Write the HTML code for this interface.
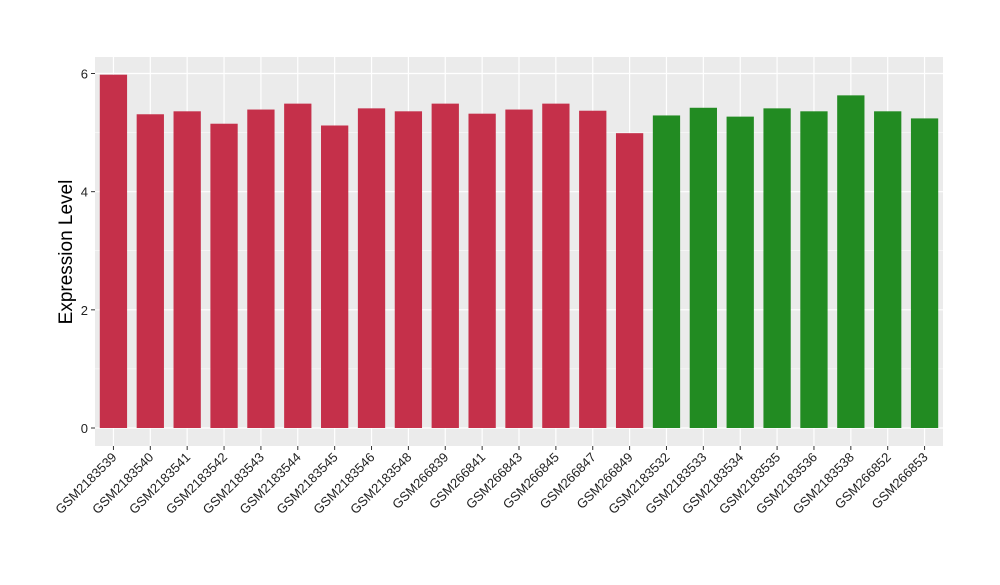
<!DOCTYPE html>
<html><head><meta charset="utf-8"><style>
body{margin:0;background:#fff}
svg{font-family:"Liberation Sans",Arial,sans-serif}
</style></head><body>
<svg id="chart" width="1000" height="580">
<rect x="95" y="57" width="848" height="389" fill="#ebebeb"/>
<g id="grid"></g><g id="bars"></g><g id="axes"></g>
<text x="72" y="252" font-size="19" text-anchor="middle" transform="rotate(-90 72 252)">Expression Level</text>
</svg>
<script>
const categories=["GSM2183539","GSM2183540","GSM2183541","GSM2183542","GSM2183543","GSM2183544","GSM2183545","GSM2183546","GSM2183548","GSM266839","GSM266841","GSM266843","GSM266845","GSM266847","GSM266849","GSM2183532","GSM2183533","GSM2183534","GSM2183535","GSM2183536","GSM2183538","GSM266852","GSM266853"];
const values=[5.98,5.31,5.36,5.15,5.39,5.49,5.12,5.41,5.36,5.49,5.32,5.39,5.49,5.37,4.99,5.29,5.42,5.27,5.41,5.36,5.63,5.36,5.24];
const groups=["a","a","a","a","a","a","a","a","a","a","a","a","a","a","a","b","b","b","b","b","b","b","b"];
const yTicks=[0,2,4,6];
const colors={a:"#c5304a",b:"#228b22"};
const NS="http://www.w3.org/2000/svg";
const L=95,R=943,T=57,B=446;
const y=v=>428-v*(428-73.5)/6;
const bw=(R-L)/categories.length;
const x=i=>L+bw*(i+0.5);
function mk(tag,attrs,parent){const e=document.createElementNS(NS,tag);for(const k in attrs)e.setAttribute(k,attrs[k]);parent.appendChild(e);return e;}
const grid=document.getElementById('grid'),bars=document.getElementById('bars'),axes=document.getElementById('axes');
for(let i=0;i<yTicks.length;i++){
 const t=yTicks[i];
 const g=mk('line',{x1:L,x2:R,y1:y(t),y2:y(t),stroke:'#fff','stroke-width':1.2},grid);
 
 
 if(i<yTicks.length-1){const m=mk('line',{x1:L,x2:R,y1:y(t+1),y2:y(t+1),stroke:'#fff','stroke-width':0.5},grid);
 
 }
 const tk=mk('line',{x1:L-4,x2:L,y1:y(t),y2:y(t),stroke:'#333'},axes);
 
 
 const lb=mk('text',{x:L-7,y:y(t)+5,'font-size':13,'text-anchor':'end',fill:'#222'},axes);
 lb.textContent=t;
 
 
}
categories.forEach((c,i)=>{
 const gl=mk('line',{x1:x(i),x2:x(i),y1:T,y2:B,stroke:'#fff','stroke-width':1.2},grid);
 
 
 const w=bw*0.74;
 const r=mk('rect',{x:x(i)-w/2,y:y(values[i]),width:w,height:y(0)-y(values[i]),fill:colors[groups[i]]},bars);
 
 
 const tk=mk('line',{x1:x(i),x2:x(i),y1:B,y2:B+4,stroke:'#333'},axes);
 
 
 const lb=mk('text',{x:x(i)+4,y:B+12,'font-size':13,'text-anchor':'end',fill:'#222',transform:`rotate(-45 ${x(i)+4} ${B+12})`},axes);
 lb.textContent=c;
 
 
});
</script>
</body></html>
